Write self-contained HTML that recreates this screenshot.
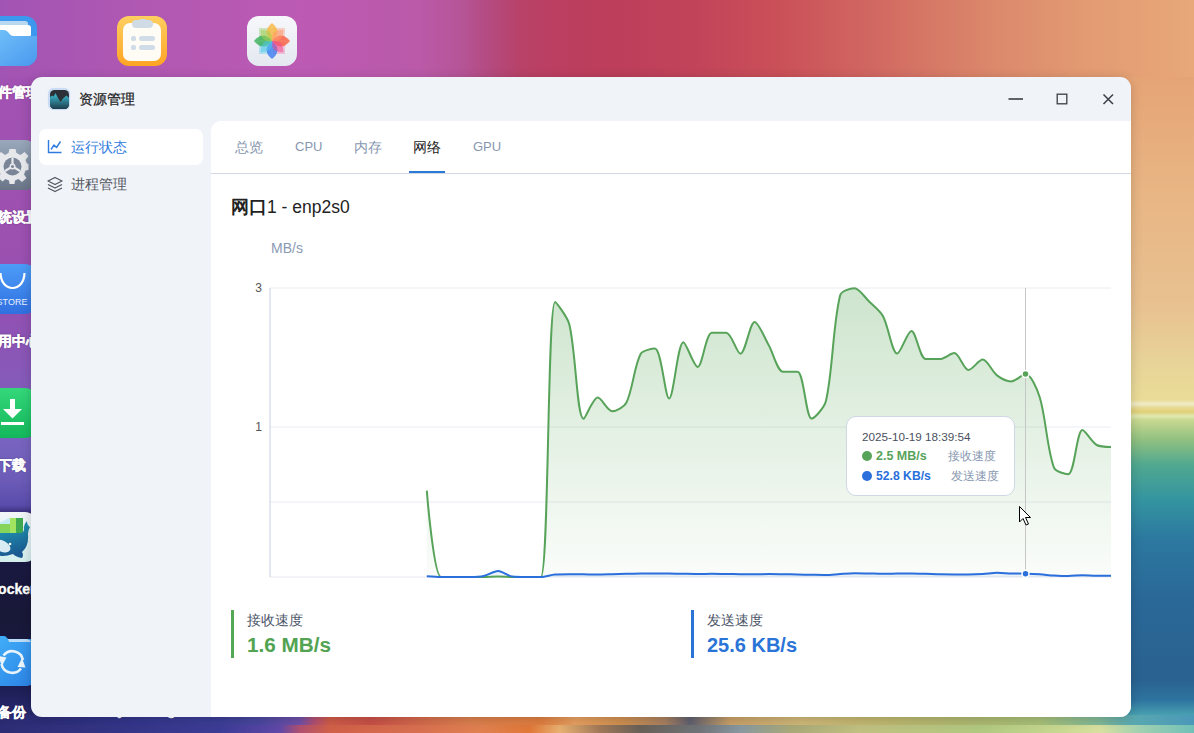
<!DOCTYPE html>
<html><head><meta charset="utf-8">
<style>
*{box-sizing:border-box;margin:0;padding:0}
html,body{width:1194px;height:733px;overflow:hidden}
body{position:relative;font-family:"Liberation Sans",sans-serif;background:#a055b0}
.abs{position:absolute}
.bgl{position:absolute}
.dicon{position:absolute;width:50px;height:50px;border-radius:12px;overflow:hidden}
.dlab{position:absolute;color:#fff;font-weight:bold;font-size:14px;line-height:16px;white-space:nowrap;-webkit-text-stroke:0.35px #fff;text-shadow:0 0 2px rgba(0,0,0,.35)}
#win{position:absolute;left:31px;top:77px;width:1100px;height:640px;border-radius:11px;background:#f0f3f8;overflow:hidden;box-shadow:0 2px 12px rgba(0,0,0,0.18)}
.t{position:absolute;white-space:nowrap}
</style></head>
<body>
<!-- background -->
<div class="bgl" style="left:0;top:0;width:1194px;height:90px;background:linear-gradient(90deg,#a254b4 0px,#b058b2 140px,#bc5ab4 300px,#ba5aa8 420px,#b65598 460px,#b44a80 490px,#b84268 520px,#bc3e60 560px,#bc3e5a 620px,#c2445a 700px,#ca5058 780px,#d06460 860px,#d67866 930px,#dc8a6c 1000px,#e29a72 1080px,#e8a878 1194px)"></div>
<div class="bgl" style="left:0;top:77px;width:48px;height:656px;background:linear-gradient(180deg,#a252b2 0px,#9c50b0 170px,#9250b2 230px,#8858b8 290px,#7e60bc 340px,#7864c0 363px,#6c5cb8 403px,#5a4cac 428px,#2a2060 440px,#1a1844 460px,#181838 540px,#1a1a48 600px,#242668 630px,#303080 656px)"></div>
<div class="bgl" style="left:1124px;top:77px;width:70px;height:656px;background:linear-gradient(180deg,#e6a476 0px,#e8b684 123px,#e8c090 223px,#e8d498 290px,#eadc98 323px,#f0ecc8 327px,#e6d890 331px,#e0d078 335px,#e0e8b0 339px,#c8d890 343px,#90c080 363px,#50a890 388px,#3494a0 423px,#2c78a0 463px,#2a6898 523px,#2a6290 603px,#2e74a0 623px,#48a0b0 638px,#70b8a8 656px)"></div>
<div class="bgl" style="left:0;top:715px;width:1194px;height:10px;background:linear-gradient(90deg,#2a2a70 0px,#32348a 120px,#3c3e96 220px,#4a48a0 260px,#7050a8 300px,#b45070 315px,#d05c48 330px,#c85048 370px,#d46a4c 420px,#dc804e 470px,#e07e40 540px,#e8a060 575px,#d09050 620px,#a88060 665px,#606070 690px,#c8a068 730px,#d0b878 800px,#c0b870 880px,#b0b870 960px,#a8c078 1040px,#80b898 1100px,#5aa8b0 1131px,#4a98b8 1194px)"></div>
<div class="bgl" style="left:0;top:725px;width:1194px;height:8px;background:linear-gradient(90deg,#2c2c74 0px,#3c3c96 220px,#6048a8 280px,#b05070 300px,#d06048 330px,#d87050 420px,#e08050 480px,#e07838 530px,#e8b070 560px,#a07858 600px,#686058 640px,#707478 700px,#8898a0 740px,#a8a878 790px,#c0c080 860px,#b0c880 980px,#c8d890 1060px,#d8e0a0 1100px,#a0d0b0 1140px,#70c0b8 1194px)"></div>

<!-- desktop icons -->
<!-- files -->
<div class="dicon" style="left:-13px;top:16px;background:#3c98ee">
  <div class="abs" style="left:4px;top:5px;width:37px;height:8px;border-radius:3px;background:#b8d8f0"></div>
  <div class="abs" style="left:4px;top:9px;width:40px;height:12px;border-radius:3px;background:#fff"></div>
  <svg class="abs" style="left:0;top:0" width="50" height="50"><defs><linearGradient id="fg" x1="0" y1="0" x2="1" y2="1"><stop offset="0" stop-color="#74c4fa"/><stop offset="1" stop-color="#4a98ee"/></linearGradient></defs>
  <path d="M0 14 H17 Q19 14 21 16 L23 18.5 Q24.5 20 27 20 H50 V50 H0 Z" fill="url(#fg)"/></svg>
</div>
<div class="dlab" style="left:-16px;top:84px">文件管理</div>
<!-- notes -->
<div class="dicon" style="left:117px;top:16px;background:linear-gradient(180deg,#ffcf60,#ffa424)">
  <div class="abs" style="left:6px;top:7px;width:38px;height:38px;border-radius:7px;background:#fffcf6"></div>
  <div class="abs" style="left:15px;top:4px;width:21px;height:8px;border-radius:4px;background:#cfdbe5"></div>
  <div class="abs" style="left:21.5px;top:2.5px;width:8px;height:5px;border-radius:3px;background:#cfdbe5"></div>
  <div class="abs" style="left:14px;top:19.5px;width:5px;height:5px;border-radius:1.8px;background:#d0dce8"></div>
  <div class="abs" style="left:22px;top:19.5px;width:16px;height:5px;border-radius:2.5px;background:#d0dce8"></div>
  <div class="abs" style="left:14px;top:28.5px;width:5px;height:5px;border-radius:1.8px;background:#d0dce8"></div>
  <div class="abs" style="left:22px;top:28.5px;width:16px;height:5px;border-radius:2.5px;background:#d0dce8"></div>
</div>
<!-- photos -->
<div class="dicon" style="left:247px;top:16px;background:linear-gradient(180deg,#f7f8fb,#e4e8f0)">
  <svg class="abs" style="left:0;top:0" width="50" height="50">
    <g transform="translate(25 25)">
      <rect x="1" y="-13" width="12" height="12" fill="#f9a48a" opacity="0.45"/>
      <rect x="-13" y="-13" width="12" height="12" fill="#9ad07a" opacity="0.45"/>
      <rect x="1" y="1" width="12" height="12" fill="#f08ab8" opacity="0.45"/>
      <rect x="-13" y="1" width="12" height="12" fill="#6ed0e8" opacity="0.45"/>
      <g opacity="0.8">
      <path d="M0 0 Q-11 -9 0 -18 Q11 -9 0 0Z" fill="#f8b840"/>
      <path d="M0 0 Q9 -11 18 0 Q9 11 0 0Z" fill="#fa6040"/>
      <path d="M0 0 Q11 9 0 18 Q-11 9 0 0Z" fill="#3a7ef2"/>
      <path d="M0 0 Q-9 11 -18 0 Q-9 -11 0 0Z" fill="#38b058"/>
      </g>
      <g transform="rotate(45)" opacity="0.55">
        <path d="M0 0 Q-9 -7 0 -16 Q9 -7 0 0Z" fill="#ff9a6a"/>
        <path d="M0 0 Q7 -9 16 0 Q7 9 0 0Z" fill="#f04a90"/>
        <path d="M0 0 Q9 7 0 16 Q-9 7 0 0Z" fill="#50c8e8"/>
        <path d="M0 0 Q-7 9 -16 0 Q-7 -9 0 0Z" fill="#a8d050"/>
      </g>
    </g>
  </svg>
</div>
<!-- settings -->
<div class="dicon" style="left:-13px;top:140px;background:linear-gradient(180deg,#9aa8bc,#6a7688)">
  <svg class="abs" style="left:0;top:0" width="50" height="50">
    <g transform="translate(25.5 25)" fill="#e6e8ec">
      <path d="M-3 -16 H3 L4 -12 L8 -10 L12 -13 L16 -9 L13 -5 L14.5 -1.5 L16 -1 V5 L13 5.5 L11.5 9.5 L14 13 L9.5 17 L6 14 L2.5 15.5 L2 19 H-3 L-3.5 15.5 L-7 14 L-10 16.5 L-14.5 12.5 L-12 9 L-13.5 5.5 L-16.5 5 V-1 L-13.5 -1.5 L-12.5 -5 L-15.5 -9 L-11.5 -13 L-7.5 -10 L-4 -12 Z"/>
    </g>
    <circle cx="25.5" cy="26.5" r="9" fill="#7a8698"/>
    <circle cx="25.5" cy="26.5" r="3" fill="#e6e8ec"/>
    <path d="M25.5 26.5 V17.5 M25.5 26.5 L33 31 M25.5 26.5 L18 31" stroke="#e6e8ec" stroke-width="2.2"/>
    <circle cx="25.5" cy="26.5" r="1.5" fill="#7a8698"/>
  </svg>
</div>
<div class="dlab" style="left:-16px;top:209px">系统设置</div>
<!-- store -->
<div class="dicon" style="left:-13px;top:264px;background:linear-gradient(180deg,#4c9cf8,#3070e0)">
  <svg class="abs" style="left:0;top:0" width="50" height="50">
    <path d="M13.5 9 C14 29 37 29 37.5 9" fill="none" stroke="#fff" stroke-width="2.2"/>
    <text x="25" y="41" text-anchor="middle" font-family="Liberation Sans" font-size="9" fill="#e8f0ff">STORE</text>
  </svg>
</div>
<div class="dlab" style="left:-16px;top:333px">应用中心</div>
<!-- download -->
<div class="dicon" style="left:-13px;top:388px;background:linear-gradient(180deg,#34d87a,#14b85c)">
  <svg class="abs" style="left:0;top:0" width="50" height="50">
    <rect x="23" y="11" width="5" height="12" fill="#fff"/>
    <path d="M16 21 H35 L25.5 30.5 Z" fill="#fff"/>
    <rect x="14" y="34" width="23" height="3" fill="#fff"/>
  </svg>
</div>
<div class="dlab" style="left:-2px;top:457px">下载</div>
<!-- docker -->
<div class="dicon" style="left:-13px;top:512px;background:linear-gradient(180deg,#f2f6f8,#d4eeee)">
  <svg class="abs" style="left:0;top:0" width="50" height="50">
    <defs><linearGradient id="wh" x1="0" y1="0" x2="0.3" y2="1"><stop offset="0" stop-color="#22a8b8"/><stop offset="1" stop-color="#1a5a92"/></linearGradient></defs>
    <path d="M8 13 L22 6 L30 10 L28 22 Z" fill="#c4eaf4"/>
    <rect x="6" y="12" width="17" height="11" fill="#86d45a"/>
    <rect x="23" y="6" width="13" height="17" fill="#40aa50"/>
    <rect x="23" y="6" width="6" height="17" fill="#a0e460"/>
    <path d="M0 21 H33 Q37 21 37 17 Q36 13 40 9 Q40 13 43 15 Q41 18 41 22 Q42 34 35 40 Q37 43 35 46 Q29 45 26 42 Q15 46 7 42 Q0 38 0 32 Z" fill="url(#wh)"/>
    <ellipse cx="15" cy="34" rx="9" ry="5.5" transform="rotate(28 15 34)" fill="#eaf6fb" opacity="0.92"/>
    <circle cx="23" cy="32" r="1.3" fill="#fff"/>
  </svg>
</div>
<div class="dlab" style="left:-12px;top:581px">Docker</div>
<!-- backup -->
<div class="dicon" style="left:-13px;top:636px;background:transparent;border-radius:10px">
  <svg class="abs" style="left:0;top:0" width="50" height="50">
    <defs><linearGradient id="bk" x1="0" y1="0" x2="1" y2="1"><stop offset="0" stop-color="#44b4fa"/><stop offset="1" stop-color="#2a80e4"/></linearGradient></defs>
    <path d="M0 0 H17 Q19 0 20 2 L21.5 3 H50 V50 H0 Z" fill="url(#bk)"/>
    <path d="M21 3 H40 Q43 3.5 44 6 H22 Z" fill="#d4e8fa" opacity="0.85"/>
    <path d="M16.5 19.5 A11 11 0 0 1 36 24" fill="none" stroke="#e8f3fc" stroke-width="2.6"/>
    <path d="M34 32.5 A11 11 0 0 1 14.5 28" fill="none" stroke="#e8f3fc" stroke-width="2.6"/>
    <path d="M11 20 L15 30 L19.5 21.5 Z" fill="#e8f3fc"/>
    <path d="M30.5 31 L35 22 L38.5 31.5 Z" fill="#e8f3fc"/>
  </svg>
</div>
<div class="dlab" style="left:-2px;top:704px">备份</div>
<div class="dlab" style="left:108px;top:702px;text-shadow:none">Syncthing</div>


<!-- window -->
<div id="win"></div>
<div class="abs" style="left:211px;top:121px;width:920px;height:596px;background:#fff;border-top-left-radius:10px;border-bottom-right-radius:11px"></div>

<!-- title bar -->
<div class="abs" style="left:48px;top:88px;width:22px;height:22px;border-radius:6px;background:#cadcf5;box-shadow:0 0 1px #cadcf5"></div>
<div class="abs" style="left:49.5px;top:89.5px;width:19px;height:19px;border-radius:4.5px;background:#2a3035;overflow:hidden">
  <svg width="19" height="19" viewBox="0 0 19 19" style="position:absolute;left:0;top:0"><defs><linearGradient id="ai" x1="0" y1="0" x2="0" y2="1"><stop offset="0.2" stop-color="#3aa8bc"/><stop offset="1" stop-color="#1c3c4c"/></linearGradient></defs><path d="M0 7 L2 5.5 L3.5 6.5 L5.5 3 L8 8 L10.5 12 L13 8.5 L16.5 5.5 L19 8 L19 19 L0 19Z" fill="url(#ai)"/></svg>
</div>
<div class="t" style="left:79px;top:90px;font-size:14px;line-height:18px;color:#1e1e1e;-webkit-text-stroke:0.25px #1e1e1e">资源管理</div>

<svg class="abs" style="left:0;top:0" width="1194" height="733">
  <line x1="1008.5" y1="99" x2="1023" y2="99" stroke="#3a3f47" stroke-width="1.6"/>
  <rect x="1057.2" y="94.2" width="9.6" height="9.6" fill="none" stroke="#3a3f47" stroke-width="1.3"/>
  <path d="M1103.5 94.5 L1113 104 M1113 94.5 L1103.5 104" stroke="#3a3f47" stroke-width="1.5"/>
</svg>

<!-- sidebar -->
<div class="abs" style="left:39px;top:129px;width:164px;height:36px;border-radius:7px;background:#fff"></div>
<svg class="abs" style="left:0;top:0" width="1194" height="733">
  <path d="M48.5 140 V152.5 H61.5" fill="none" stroke="#2f7be0" stroke-width="1.4"/>
  <path d="M51 149.5 L54 145 L56.5 147.5 L60.5 141.5" fill="none" stroke="#2f7be0" stroke-width="1.4" stroke-linejoin="round"/>
  <path d="M55 177.5 L62 181 L55 184.5 L48 181 Z" fill="none" stroke="#50565f" stroke-width="1.3" stroke-linejoin="round"/>
  <path d="M48 184.5 L55 188 L62 184.5" fill="none" stroke="#50565f" stroke-width="1.3" stroke-linejoin="round"/>
  <path d="M48 188 L55 191.5 L62 188" fill="none" stroke="#50565f" stroke-width="1.3" stroke-linejoin="round"/>
</svg>
<div class="t" style="left:71px;top:138px;font-size:14px;line-height:18px;color:#2f7be0">运行状态</div>
<div class="t" style="left:71px;top:175px;font-size:14px;line-height:18px;color:#50565f">进程管理</div>

<!-- tabs -->
<div class="t" style="left:235px;top:138px;font-size:14px;line-height:18px;color:#8797b0">总览</div>
<div class="t" style="left:295px;top:138px;font-size:13px;line-height:18px;color:#8797b0">CPU</div>
<div class="t" style="left:354px;top:138px;font-size:14px;line-height:18px;color:#8797b0">内存</div>
<div class="t" style="left:413px;top:138px;font-size:14px;line-height:18px;color:#222">网络</div>
<div class="t" style="left:473px;top:138px;font-size:13px;line-height:18px;color:#8797b0">GPU</div>
<div class="abs" style="left:211px;top:173px;width:920px;height:1px;background:#d0d8e4"></div>
<div class="abs" style="left:409px;top:171px;width:36px;height:2px;background:#2b7ad8"></div>

<div class="t" style="left:231px;top:197px;font-size:17.5px;line-height:20px;color:#222"><b>网口</b>1 - enp2s0</div>

<!-- chart -->
<div class="t" style="left:271px;top:239.5px;font-size:14px;line-height:17px;color:#8a9ab4">MB/s</div>
<div class="t" style="left:254px;top:281px;font-size:12px;line-height:14px;color:#555;width:8px;text-align:right">3</div>
<div class="t" style="left:254px;top:420px;font-size:12px;line-height:14px;color:#555;width:8px;text-align:right">1</div>
<svg class="abs" style="left:0;top:0" width="1194" height="733">
  <defs>
    <linearGradient id="gg" x1="0" y1="288" x2="0" y2="577" gradientUnits="userSpaceOnUse">
      <stop offset="0" stop-color="#5aa65a" stop-opacity="0.30"/>
      <stop offset="1" stop-color="#5aa65a" stop-opacity="0.03"/>
    </linearGradient>
  </defs>
  <line x1="270" y1="288" x2="1111" y2="288" stroke="#e9ecf3" stroke-width="1"/>
  <line x1="270" y1="427" x2="1111" y2="427" stroke="#e9ecf3" stroke-width="1"/>
  <line x1="270" y1="502" x2="1111" y2="502" stroke="#e9ecf3" stroke-width="1"/>
  <line x1="270" y1="577" x2="1111" y2="577" stroke="#e4e8ef" stroke-width="1"/>
  <line x1="270" y1="288" x2="270" y2="577" stroke="#d8dfeb" stroke-width="1.5"/>
  <path d="M426.80 490.70 C426.80 490.70 433.70 577.00 441.05 577.00 C442.25 577.00 451.03 577.00 455.31 577.00 C459.58 577.00 465.28 577.00 469.56 577.00 C473.84 577.00 479.54 577.00 483.81 577.00 C488.09 577.00 493.79 576.50 498.07 576.50 C502.34 576.50 508.04 577.00 512.32 577.00 C516.60 577.00 522.30 577.00 526.58 577.00 C530.85 577.00 540.41 577.00 540.83 577.00 C548.96 577.00 547.28 302.00 555.08 302.00 C555.84 302.00 567.48 316.78 569.34 324.40 C576.03 351.82 576.85 418.80 583.59 418.80 C585.40 418.80 593.02 397.60 597.85 397.60 C601.57 397.60 607.46 411.20 612.10 411.20 C616.01 411.20 624.25 406.93 626.36 402.70 C632.80 389.77 634.03 366.48 640.61 354.00 C642.59 350.25 652.92 348.60 654.86 348.60 C661.48 348.60 665.08 398.50 669.12 398.50 C673.64 398.50 677.64 342.20 683.37 342.20 C686.19 342.20 693.90 366.90 697.63 366.90 C702.45 366.90 705.71 332.80 711.88 332.80 C714.26 332.80 723.06 332.80 726.14 332.80 C731.61 332.80 736.79 353.80 740.39 353.80 C745.34 353.80 749.86 321.90 754.64 321.90 C758.42 321.90 764.79 338.32 768.90 345.50 C773.34 353.26 777.37 371.70 783.15 371.70 C785.92 371.70 795.48 371.70 797.41 371.70 C804.03 371.70 805.80 418.60 811.66 418.60 C814.36 418.60 824.42 407.56 825.92 401.10 C832.98 370.57 832.72 324.76 840.17 295.30 C841.28 290.92 850.54 288.30 854.42 288.30 C859.09 288.30 864.57 297.01 868.68 301.00 C873.13 305.32 880.03 310.64 882.93 316.00 C888.58 326.42 892.05 353.60 897.19 353.60 C900.60 353.60 907.52 331.00 911.44 331.00 C916.07 331.00 919.81 359.10 925.69 359.10 C928.36 359.10 935.85 359.10 939.95 359.10 C944.40 359.10 950.68 353.10 954.20 353.10 C959.24 353.10 963.70 370.00 968.46 370.00 C972.25 370.00 978.83 359.60 982.71 359.60 C987.39 359.60 992.01 371.61 996.97 375.40 C1000.57 378.15 1007.02 381.40 1011.22 381.40 C1015.57 381.40 1022.31 374.10 1025.47 374.10 C1030.86 374.10 1037.38 389.58 1039.73 397.30 C1045.93 417.63 1046.97 448.67 1053.98 467.60 C1055.52 471.74 1066.08 474.20 1068.24 474.20 C1074.63 474.20 1076.58 430.00 1082.49 430.00 C1085.13 430.00 1091.70 442.27 1096.75 445.00 C1100.25 446.90 1111.00 446.90 1111.00 446.90 L1111.00 577 L426.80 577 Z" fill="url(#gg)"/>
  <path d="M426.80 576.30 C426.80 576.30 436.77 577.00 441.05 577.00 C445.32 577.00 451.03 577.00 455.31 577.00 C459.58 577.00 465.29 577.00 469.56 577.00 C473.84 577.00 479.66 576.88 483.81 576.00 C488.21 575.08 493.82 571.00 498.07 571.00 C502.37 571.00 507.90 575.96 512.32 576.50 C516.45 577.00 522.30 577.00 526.58 577.00 C530.85 577.00 536.59 577.00 540.83 577.00 C545.14 577.00 550.78 574.80 555.08 574.50 C559.33 574.20 565.06 574.20 569.34 574.20 C573.61 574.20 579.32 574.26 583.59 574.30 C587.87 574.35 593.57 574.50 597.85 574.50 C602.12 574.50 607.83 574.30 612.10 574.20 C616.38 574.09 622.08 573.89 626.36 573.80 C630.63 573.71 636.33 573.66 640.61 573.60 C644.89 573.54 650.59 573.40 654.86 573.40 C659.14 573.40 664.84 573.44 669.12 573.50 C673.40 573.56 679.10 573.72 683.37 573.80 C687.65 573.87 693.35 574.00 697.63 574.00 C701.90 574.00 707.61 573.80 711.88 573.80 C716.16 573.80 721.86 573.94 726.14 574.00 C730.41 574.06 736.11 574.15 740.39 574.20 C744.67 574.24 750.37 574.30 754.64 574.30 C758.92 574.30 764.62 574.00 768.90 574.00 C773.17 574.00 778.88 574.13 783.15 574.20 C787.43 574.28 793.13 574.41 797.41 574.50 C801.68 574.59 807.38 574.72 811.66 574.80 C815.94 574.87 821.64 575.00 825.92 575.00 C830.20 575.00 835.89 574.26 840.17 574.00 C844.44 573.75 850.15 573.30 854.42 573.30 C858.70 573.30 864.40 573.43 868.68 573.50 C872.95 573.58 878.66 573.80 882.93 573.80 C887.21 573.80 892.91 573.65 897.19 573.60 C901.46 573.56 907.16 573.50 911.44 573.50 C915.72 573.50 921.42 573.68 925.69 573.80 C929.97 573.92 935.67 574.21 939.95 574.30 C944.22 574.39 949.93 574.40 954.20 574.40 C958.48 574.40 964.18 574.40 968.46 574.40 C972.73 574.40 978.44 574.24 982.71 574.00 C986.99 573.76 992.68 572.80 996.97 572.80 C1001.24 572.80 1006.94 573.36 1011.22 573.50 C1015.49 573.63 1021.20 573.58 1025.47 573.70 C1029.75 573.82 1035.46 574.03 1039.73 574.30 C1044.01 574.57 1049.70 575.24 1053.98 575.50 C1058.25 575.75 1063.96 576.00 1068.24 576.00 C1072.52 576.00 1078.21 575.20 1082.49 575.20 C1086.77 575.20 1092.47 575.80 1096.75 575.80 C1101.02 575.80 1111.00 575.80 1111.00 575.80 L1111.00 577 L426.80 577 Z" fill="#2a6fdb" fill-opacity="0.08"/>
  <line x1="1025.5" y1="288" x2="1025.5" y2="577" stroke="#c6c6c6" stroke-width="1"/>
  <path d="M426.80 490.70 C426.80 490.70 433.70 577.00 441.05 577.00 C442.25 577.00 451.03 577.00 455.31 577.00 C459.58 577.00 465.28 577.00 469.56 577.00 C473.84 577.00 479.54 577.00 483.81 577.00 C488.09 577.00 493.79 576.50 498.07 576.50 C502.34 576.50 508.04 577.00 512.32 577.00 C516.60 577.00 522.30 577.00 526.58 577.00 C530.85 577.00 540.41 577.00 540.83 577.00 C548.96 577.00 547.28 302.00 555.08 302.00 C555.84 302.00 567.48 316.78 569.34 324.40 C576.03 351.82 576.85 418.80 583.59 418.80 C585.40 418.80 593.02 397.60 597.85 397.60 C601.57 397.60 607.46 411.20 612.10 411.20 C616.01 411.20 624.25 406.93 626.36 402.70 C632.80 389.77 634.03 366.48 640.61 354.00 C642.59 350.25 652.92 348.60 654.86 348.60 C661.48 348.60 665.08 398.50 669.12 398.50 C673.64 398.50 677.64 342.20 683.37 342.20 C686.19 342.20 693.90 366.90 697.63 366.90 C702.45 366.90 705.71 332.80 711.88 332.80 C714.26 332.80 723.06 332.80 726.14 332.80 C731.61 332.80 736.79 353.80 740.39 353.80 C745.34 353.80 749.86 321.90 754.64 321.90 C758.42 321.90 764.79 338.32 768.90 345.50 C773.34 353.26 777.37 371.70 783.15 371.70 C785.92 371.70 795.48 371.70 797.41 371.70 C804.03 371.70 805.80 418.60 811.66 418.60 C814.36 418.60 824.42 407.56 825.92 401.10 C832.98 370.57 832.72 324.76 840.17 295.30 C841.28 290.92 850.54 288.30 854.42 288.30 C859.09 288.30 864.57 297.01 868.68 301.00 C873.13 305.32 880.03 310.64 882.93 316.00 C888.58 326.42 892.05 353.60 897.19 353.60 C900.60 353.60 907.52 331.00 911.44 331.00 C916.07 331.00 919.81 359.10 925.69 359.10 C928.36 359.10 935.85 359.10 939.95 359.10 C944.40 359.10 950.68 353.10 954.20 353.10 C959.24 353.10 963.70 370.00 968.46 370.00 C972.25 370.00 978.83 359.60 982.71 359.60 C987.39 359.60 992.01 371.61 996.97 375.40 C1000.57 378.15 1007.02 381.40 1011.22 381.40 C1015.57 381.40 1022.31 374.10 1025.47 374.10 C1030.86 374.10 1037.38 389.58 1039.73 397.30 C1045.93 417.63 1046.97 448.67 1053.98 467.60 C1055.52 471.74 1066.08 474.20 1068.24 474.20 C1074.63 474.20 1076.58 430.00 1082.49 430.00 C1085.13 430.00 1091.70 442.27 1096.75 445.00 C1100.25 446.90 1111.00 446.90 1111.00 446.90" fill="none" stroke="#58a35a" stroke-width="2"/>
  <path d="M426.80 576.30 C426.80 576.30 436.77 577.00 441.05 577.00 C445.32 577.00 451.03 577.00 455.31 577.00 C459.58 577.00 465.29 577.00 469.56 577.00 C473.84 577.00 479.66 576.88 483.81 576.00 C488.21 575.08 493.82 571.00 498.07 571.00 C502.37 571.00 507.90 575.96 512.32 576.50 C516.45 577.00 522.30 577.00 526.58 577.00 C530.85 577.00 536.59 577.00 540.83 577.00 C545.14 577.00 550.78 574.80 555.08 574.50 C559.33 574.20 565.06 574.20 569.34 574.20 C573.61 574.20 579.32 574.26 583.59 574.30 C587.87 574.35 593.57 574.50 597.85 574.50 C602.12 574.50 607.83 574.30 612.10 574.20 C616.38 574.09 622.08 573.89 626.36 573.80 C630.63 573.71 636.33 573.66 640.61 573.60 C644.89 573.54 650.59 573.40 654.86 573.40 C659.14 573.40 664.84 573.44 669.12 573.50 C673.40 573.56 679.10 573.72 683.37 573.80 C687.65 573.87 693.35 574.00 697.63 574.00 C701.90 574.00 707.61 573.80 711.88 573.80 C716.16 573.80 721.86 573.94 726.14 574.00 C730.41 574.06 736.11 574.15 740.39 574.20 C744.67 574.24 750.37 574.30 754.64 574.30 C758.92 574.30 764.62 574.00 768.90 574.00 C773.17 574.00 778.88 574.13 783.15 574.20 C787.43 574.28 793.13 574.41 797.41 574.50 C801.68 574.59 807.38 574.72 811.66 574.80 C815.94 574.87 821.64 575.00 825.92 575.00 C830.20 575.00 835.89 574.26 840.17 574.00 C844.44 573.75 850.15 573.30 854.42 573.30 C858.70 573.30 864.40 573.43 868.68 573.50 C872.95 573.58 878.66 573.80 882.93 573.80 C887.21 573.80 892.91 573.65 897.19 573.60 C901.46 573.56 907.16 573.50 911.44 573.50 C915.72 573.50 921.42 573.68 925.69 573.80 C929.97 573.92 935.67 574.21 939.95 574.30 C944.22 574.39 949.93 574.40 954.20 574.40 C958.48 574.40 964.18 574.40 968.46 574.40 C972.73 574.40 978.44 574.24 982.71 574.00 C986.99 573.76 992.68 572.80 996.97 572.80 C1001.24 572.80 1006.94 573.36 1011.22 573.50 C1015.49 573.63 1021.20 573.58 1025.47 573.70 C1029.75 573.82 1035.46 574.03 1039.73 574.30 C1044.01 574.57 1049.70 575.24 1053.98 575.50 C1058.25 575.75 1063.96 576.00 1068.24 576.00 C1072.52 576.00 1078.21 575.20 1082.49 575.20 C1086.77 575.20 1092.47 575.80 1096.75 575.80 C1101.02 575.80 1111.00 575.80 1111.00 575.80" fill="none" stroke="#2a6fdb" stroke-width="2"/>
  <circle cx="1025.5" cy="374.1" r="3.5" fill="#58a35a" stroke="#fff" stroke-width="1.5"/>
  <circle cx="1025.5" cy="573.7" r="3.5" fill="#2a6fdb" stroke="#fff" stroke-width="1.5"/>
</svg>

<!-- tooltip -->
<div class="abs" style="left:846px;top:416px;width:169px;height:80px;border-radius:10px;background:#fff;border:1px solid #cfd7e5"></div>
<div class="t" style="left:862px;top:429px;font-size:11.7px;line-height:15px;color:#4a5060">2025-10-19 18:39:54</div>
<div class="abs" style="left:862px;top:451px;width:10px;height:10px;border-radius:5px;background:#58a35a"></div>
<div class="t" style="left:876px;top:449px;font-size:12.5px;line-height:15px;color:#58a35a;font-weight:bold">2.5 MB/s</div>
<div class="t" style="left:948px;top:449px;font-size:12px;line-height:15px;color:#8898b0">接收速度</div>
<div class="abs" style="left:862px;top:471px;width:10px;height:10px;border-radius:5px;background:#2a6fdb"></div>
<div class="t" style="left:876px;top:469px;font-size:12.2px;line-height:15px;color:#2a6fdb;font-weight:bold">52.8 KB/s</div>
<div class="t" style="left:951px;top:469px;font-size:12px;line-height:15px;color:#8898b0">发送速度</div>

<!-- cursor -->
<svg class="abs" style="left:0;top:0" width="1194" height="733">
  <path d="M1019.5 506.5 V522 L1023 518.5 L1026 525 L1028.5 524 L1025.5 517.5 L1030.5 517.5 Z" fill="#fff" stroke="#000" stroke-width="1" stroke-linejoin="round"/>
</svg>

<!-- stats -->
<div class="abs" style="left:231px;top:610px;width:3px;height:48px;background:#55a655"></div>
<div class="t" style="left:247px;top:611px;font-size:14px;line-height:18px;color:#4a5468">接收速度</div>
<div class="t" style="left:247px;top:633px;font-size:20.7px;line-height:24px;color:#52a352;font-weight:bold">1.6 MB/s</div>
<div class="abs" style="left:691px;top:610px;width:3px;height:48px;background:#2a74d8"></div>
<div class="t" style="left:707px;top:611px;font-size:14px;line-height:18px;color:#4a5468">发送速度</div>
<div class="t" style="left:707px;top:633px;font-size:20px;line-height:24px;color:#2a74d8;font-weight:bold">25.6 KB/s</div>

</body></html>
